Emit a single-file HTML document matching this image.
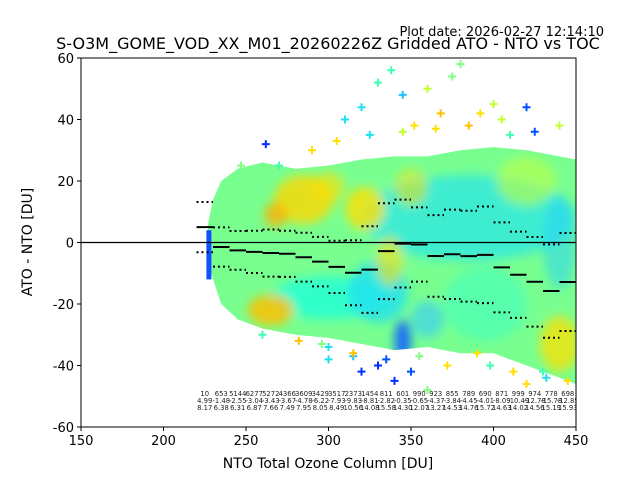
<!DOCTYPE html>
<html><head><meta charset="utf-8"><style>
html,body{margin:0;padding:0;background:#fff;}
svg{display:block;font-family:"DejaVu Sans","Liberation Sans",sans-serif;}
</style></head><body>
<svg id="chart" width="640" height="480" viewBox="0 0 640 480">
<text x="604" y="36" font-size="13" text-anchor="end">Plot date: 2026-02-27 12:14:10</text>
<text x="328" y="49" font-size="16" text-anchor="middle">S-O3M_GOME_VOD_XX_M01_20260226Z Gridded ATO - NTO vs TOC</text>
<g id="plot"></g>
<g id="axes"></g>
<text x="328" y="468" font-size="14" text-anchor="middle">NTO Total Ozone Column [DU]</text>
<text x="32" y="242" font-size="14" text-anchor="middle" transform="rotate(-90 32 242)">ATO - NTO [DU]</text>
</svg>
<script>
const binCenters=[225,235,245,255,265,275,285,295,305,315,325,335,345,355,365,375,385,395,405,415,425,435,445];
const counts=[10,653,5144,6277,5272,4366,3609,3429,3517,2373,1454,811,601,990,923,855,789,690,871,999,974,778,698];
const means=[4.99,-1.48,-2.55,-3.04,-3.43,-3.67,-4.78,-6.22,-7.93,-9.83,-8.81,-2.82,-0.35,-0.65,-4.37,-3.84,-4.45,-4.01,-8.09,-10.49,-12.78,-15.78,-12.85];
const stds=[8.17,6.38,6.31,6.87,7.66,7.49,7.95,8.05,8.49,10.56,14.08,15.58,14.30,12.07,13.27,14.53,14.76,15.72,14.63,14.02,14.56,15.19,15.93];
const xTicks=[150,200,250,300,350,400,450];
const yTicks=[-60,-40,-20,0,20,40,60];
const cloudUpperX=[227,230,235,245,260,280,300,320,340,360,380,400,420,440,450];
const cloudUpperY=[6,14,20,24,26,24,25,27,28,28,30,31,30,28,27];
const cloudLowerX=[450,440,420,400,380,360,340,320,300,280,260,245,235,230,227];
const cloudLowerY=[-46,-44,-40,-36,-36,-34,-35,-33,-31,-30,-28,-25,-20,-12,-6];
const outX=[247,262,270,290,310,320,330,338,345,352,360,368,375,380,392,400,410,420,440,300,320,340,350,360,390,420,430,445,330,315,260,305,325,345,365,385,405,425,300,315,335,355,372,398,412,432,282,296];
const outY=[25,32,25,30,40,44,52,56,48,38,50,42,54,58,42,45,35,44,38,-38,-42,-45,-42,-48,-36,-46,-42,-45,-40,-37,-30,33,35,36,37,38,40,36,-34,-36,-38,-37,-40,-40,-42,-44,-32,-33];
const outC=["#80ff80","#0030ff","#40ffb0","#ffe000","#20e0f0","#20e0f0","#40ffb0","#40ffb0","#20c0ff","#ffe000","#c0ff30","#ffc000","#80ff80","#80ff80","#ffe000","#c0ff30","#40ffb0","#0050ff","#c0ff30","#20e0f0","#0030ff","#0030ff","#0050ff","#80ff80","#ffe000","#ffe000","#40ffb0","#ffe000","#0030ff","#20c0ff","#40ffb0","#ffe000","#20e0f0","#c0ff30","#ffe000","#ffc000","#c0ff30","#0050ff","#20e0f0","#ffc000","#0050ff","#80ff80","#ffe000","#40ffb0","#ffe000","#20e0f0","#ffc000","#80ff80"];

const X0=81,X1=576,Y0=58,Y1=427;
const xs=v=>X0+(v-150)/300*(X1-X0);
const ys=v=>Y1-(v+60)/120*(Y1-Y0);
const NS="http://www.w3.org/2000/svg";
const plot=document.getElementById('plot'), axes=document.getElementById('axes');
function mk(tag,attrs,parent){const e=document.createElementNS(NS,tag);for(const k in attrs)e.setAttribute(k,attrs[k]);parent.appendChild(e);return e;}

const defs=mk('defs',{},plot);
const cp=mk('clipPath',{id:'clip'},defs);
mk('rect',{x:X0,y:Y0,width:X1-X0,height:Y1-Y0},cp);
const cp2=mk('clipPath',{id:'cloudclip'},defs);
const f=mk('filter',{id:'blur',x:'-50%',y:'-50%',width:'200%',height:'200%'},defs);
mk('feGaussianBlur',{stdDeviation:5},f);
const g=mk('g',{'clip-path':'url(#clip)'},plot);

let pts=[];
for(let i=0;i<cloudUpperX.length;i++)pts.push(xs(cloudUpperX[i])+','+ys(cloudUpperY[i]));
for(let i=0;i<cloudLowerX.length;i++)pts.push(xs(cloudLowerX[i])+','+ys(cloudLowerY[i]));
mk('polygon',{points:pts.join(' ')},cp2);
const cloud=mk('polygon',{points:pts.join(' '),fill:'#78ff90'},g);



const bg=mk('g',{'clip-path':'url(#cloudclip)'},g);
const bg2=mk('g',{filter:'url(#blur)'},bg);
const blobs=[[385,8,65,14,'#30e8e0',0.8],[300,-18,35,7,'#28ffd0',0.9],[330,-16,18,10,'#22e0f0',0.8],[285,14,18,8,'#ffd700',0.8],[268,9,7,4,'#ffb000',0.8],[265,-22,14,5,'#ffc000',0.85],[322,11,12,7,'#ffe000',0.8],[440,-33,12,9,'#ffe000',0.75],[345,-32,5,7,'#1060ff',0.9],[337,-6,8,8,'#ffe000',0.6],[420,20,18,8,'#c0ff40',0.6],[395,-20,25,12,'#40ffc0',0.6],[440,0,10,15,'#20d0ff',0.5],[350,18,10,6,'#ffe000',0.5],[300,18,10,5,'#ffe000',0.6],[360,-25,10,6,'#30c8ff',0.6]];
blobs.forEach(b=>{const e=mk('ellipse',{cx:xs(b[0]),cy:ys(b[1]),rx:b[2]*1.65,ry:b[3]*3.075,fill:b[4],opacity:b[5]},bg2);

});
const le=mk('rect',{x:xs(226),y:ys(4),width:5,height:ys(-12)-ys(4),fill:'#1050ff'},g);



for(let i=0;i<outX.length;i++){const cx=xs(outX[i]),cy=ys(outY[i]);
const p=mk('path',{d:`M${cx-4} ${cy}H${cx+4}M${cx} ${cy-4}V${cy+4}`,stroke:outC[i],'stroke-width':2},g);

}

mk('line',{x1:X0,x2:X1,y1:ys(0),y2:ys(0),stroke:'#000','stroke-width':1.3},g);

for(let i=0;i<binCenters.length;i++){
const xa=xs(binCenters[i]-5),xb=xs(binCenters[i]+5);
const m=mk('line',{x1:xa,x2:xb,y1:ys(means[i]),y2:ys(means[i]),stroke:'#000','stroke-width':2},g);


[means[i]+stds[i],means[i]-stds[i]].forEach(v=>{const d=mk('line',{x1:xa,x2:xb,y1:ys(v),y2:ys(v),stroke:'#000','stroke-width':2,'stroke-dasharray':'2,3'},g);

});
[counts[i],means[i].toFixed(2),stds[i].toFixed(2)].forEach((t,k)=>{const tx=mk('text',{x:xs(binCenters[i]),y:396+k*7,'font-size':6.8,'text-anchor':'middle',fill:'#222'},g);tx.textContent=t;

});
}

mk('rect',{x:X0,y:Y0,width:X1-X0,height:Y1-Y0,fill:'none',stroke:'#000','stroke-width':1},axes);
xTicks.forEach(v=>{const x=xs(v);mk('line',{x1:x,x2:x,y1:Y1,y2:Y1+4,stroke:'#000'},axes);
const t=mk('text',{x:x,y:Y1+18,'font-size':13,'text-anchor':'middle'},axes);t.textContent=v;

});
yTicks.forEach(v=>{const y=ys(v);mk('line',{x1:X0-4,x2:X0,y1:y,y2:y,stroke:'#000'},axes);
const t=mk('text',{x:X0-7,y:y+5,'font-size':13,'text-anchor':'end'},axes);t.textContent=v;

});
</script>
</body></html>
